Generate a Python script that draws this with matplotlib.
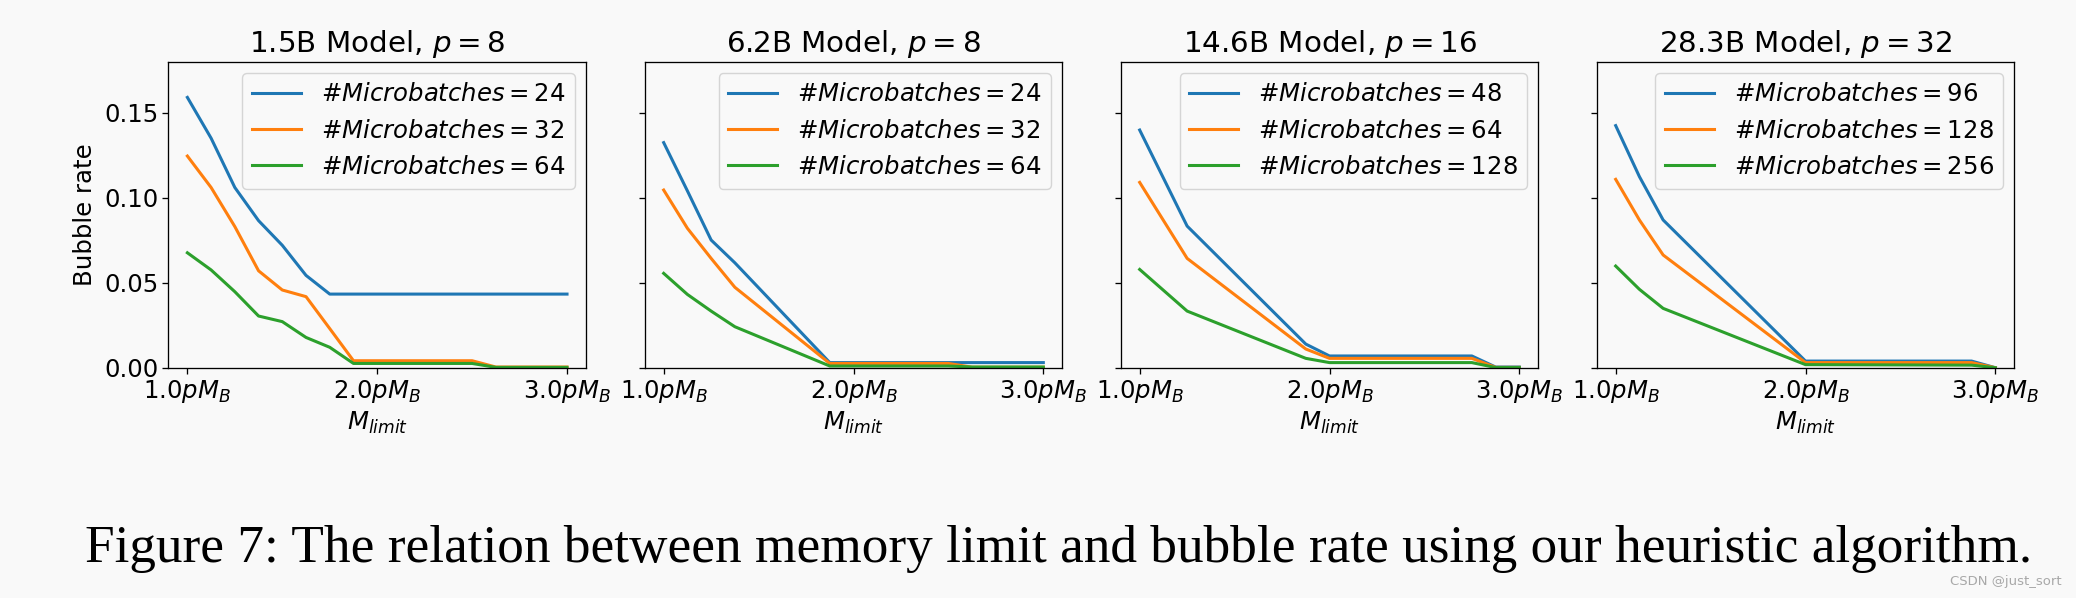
import matplotlib
matplotlib.use("Agg")
import matplotlib.pyplot as plt

# ---------------- data ----------------
titles = [r"1.5B Model, $p = 8$", r"6.2B Model, $p = 8$",
          r"14.6B Model, $p = 16$", r"28.3B Model, $p = 32$"]

microbatches = [[24, 32, 64], [24, 32, 64], [48, 64, 128], [96, 128, 256]]

# panel 1 (1.5B, p=8)
x1 = [1.0, 1.125, 1.25, 1.375, 1.5, 1.625, 1.75, 1.875, 2.0, 2.5, 2.625, 3.0]
p1_a = [0.159, 0.135, 0.106, 0.0865, 0.072, 0.0543, 0.0433, 0.0433, 0.0433, 0.0433, 0.0433, 0.0433]
p1_b = [0.1245, 0.106, 0.083, 0.057, 0.0457, 0.0418, 0.023, 0.0041, 0.0041, 0.0041, 0.0004, 0.0004]
p1_c = [0.0676, 0.0575, 0.0447, 0.0304, 0.0271, 0.0178, 0.012, 0.0025, 0.0025, 0.0025, 0.0002, 0.0002]

# panel 2 (6.2B, p=8)
x2 = [1.0, 1.125, 1.25, 1.375, 1.875, 2.5, 2.625, 3.0]
p2_a = [0.1324, 0.104, 0.0751, 0.0617, 0.0030, 0.0030, 0.0030, 0.0030]
p2_b = [0.1045, 0.082, 0.0643, 0.0473, 0.0025, 0.0025, 0.0003, 0.0003]
p2_c = [0.0555, 0.0431, 0.0333, 0.0241, 0.0010, 0.0010, 0.0004, 0.0004]

# panel 3 (14.6B, p=16)
x3 = [1.0, 1.25, 1.875, 2.0, 2.75, 2.875, 3.0]
p3_a = [0.1398, 0.0833, 0.0139, 0.0069, 0.0069, 0.0004, 0.0004]
p3_b = [0.109, 0.0643, 0.011, 0.0055, 0.0055, 0.0002, 0.0002]
p3_c = [0.0578, 0.0333, 0.0055, 0.0030, 0.0030, 0.0001, 0.0001]

# panel 4 (28.3B, p=32)
x4 = [1.0, 1.125, 1.25, 2.0, 2.875, 3.0]
p4_a = [0.1424, 0.1124, 0.0869, 0.0039, 0.0039, 0.0]
p4_b = [0.1108, 0.0869, 0.0663, 0.0030, 0.0030, 0.0]
p4_c = [0.0598, 0.0461, 0.0349, 0.0018, 0.0015, 0.0]

xs = [x1, x2, x3, x4]
ys = [[p1_a, p1_b, p1_c], [p2_a, p2_b, p2_c], [p3_a, p3_b, p3_c], [p4_a, p4_b, p4_c]]

xtick_vals = [1.0, 2.0, 3.0]
xtick_labels = [r"$1.0pM_B$", r"$2.0pM_B$", r"$3.0pM_B$"]
ytick_vals = [0.0, 0.05, 0.10, 0.15]
caption = "Figure 7: The relation between memory limit and bubble rate using our heuristic algorithm."
watermark = "CSDN @just_sort"

# ---------------- figure ----------------
BG = "#f9f9f9"
W, H = 2076, 598
fig = plt.figure(figsize=(W / 100, H / 100), dpi=100, facecolor=BG)

FS = 17.6
colors = ["#1f77b4", "#ff7f0e", "#2ca02c"]
lefts_px = [168.4, 644.7, 1120.7, 1596.7]
ax_w, ax_top, ax_bot = 417.6, 61.7, 367.7

axes = []
for i in range(4):
    rect = [lefts_px[i] / W, (H - ax_bot) / H, ax_w / W, (ax_bot - ax_top) / H]
    ax = fig.add_axes(rect, sharey=axes[0] if axes else None)
    ax.set_facecolor(BG)
    for j in range(3):
        ax.plot(xs[i], ys[i][j], color=colors[j], lw=2.2,
                label="#" + r"$Microbatches = %d$" % microbatches[i][j])
    ax.set_xlim(0.9, 3.1)
    ax.set_ylim(0, 0.18)
    ax.set_xticks(xtick_vals)
    ax.set_xticklabels(xtick_labels)
    ax.set_yticks(ytick_vals)
    ax.tick_params(labelsize=FS, length=4.1, width=0.94, pad=3)
    for s in ax.spines.values():
        s.set_linewidth(0.94)
    ax.set_title(titles[i], fontsize=21.2, pad=7)
    ax.set_xlabel(r"$M_{limit}$", fontsize=FS, labelpad=4)
    if i == 0:
        ax.set_ylabel("Bubble rate", fontsize=FS, labelpad=5)
        ax.yaxis.set_major_formatter(matplotlib.ticker.FormatStrFormatter("%.2f"))
    else:
        ax.tick_params(labelleft=False)
    leg = ax.legend(loc="upper right", fontsize=FS, framealpha=0.8,
                    facecolor=BG, edgecolor="#cccccc", borderaxespad=0.45)
    axes.append(ax)

fig.text(0.510, (H - 561.7) / H, caption, family="Liberation Serif",
         fontsize=38.3, ha="center", va="baseline", color="black")
fig.text(2062 / W, (H - 585) / H, watermark, fontsize=9.5, color="#a8a8a8",
         ha="right", va="baseline")

fig.savefig("out.png", dpi=100, facecolor=BG)
